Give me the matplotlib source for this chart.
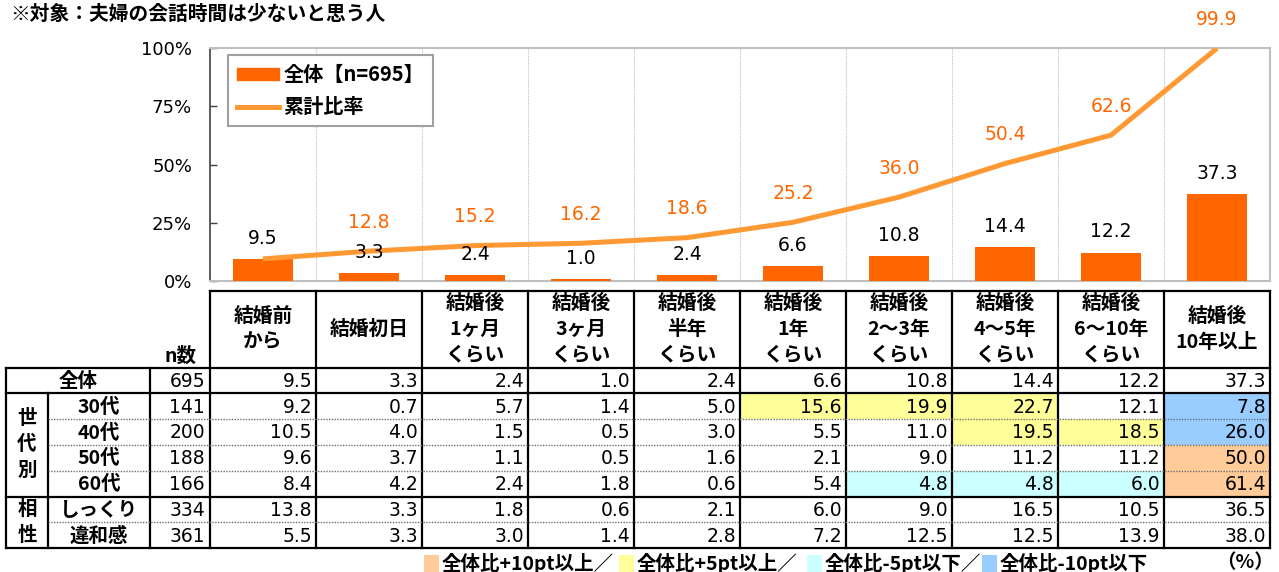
import matplotlib
matplotlib.use('Agg')
import matplotlib.pyplot as plt
from matplotlib.patches import Rectangle, Patch
from matplotlib.lines import Line2D

plt.rcParams['font.family'] = ['Noto Sans CJK JP', 'DejaVu Sans']
NUM_FONT = ['DejaVu Sans', 'Noto Sans CJK JP']

# データ
title = '※対象：夫婦の会話時間は少ないと思う人'
categories = ['結婚前\nから', '結婚初日', '結婚後\n1ヶ月\nくらい', '結婚後\n3ヶ月\nくらい',
              '結婚後\n半年\nくらい', '結婚後\n1年\nくらい', '結婚後\n2～3年\nくらい',
              '結婚後\n4～5年\nくらい', '結婚後\n6～10年\nくらい', '結婚後\n10年以上']
overall = [9.5, 3.3, 2.4, 1.0, 2.4, 6.6, 10.8, 14.4, 12.2, 37.3]
cumulative = [9.5, 12.8, 15.2, 16.2, 18.6, 25.2, 36.0, 50.4, 62.6, 99.9]
yticks = [0, 25, 50, 75, 100]

row_labels = ['全体', '30代', '40代', '50代', '60代', 'しっくり', '違和感']
n_counts = [695, 141, 200, 188, 166, 334, 361]
table_values = [
    [9.5, 3.3, 2.4, 1.0, 2.4, 6.6, 10.8, 14.4, 12.2, 37.3],
    [9.2, 0.7, 5.7, 1.4, 5.0, 15.6, 19.9, 22.7, 12.1, 7.8],
    [10.5, 4.0, 1.5, 0.5, 3.0, 5.5, 11.0, 19.5, 18.5, 26.0],
    [9.6, 3.7, 1.1, 0.5, 1.6, 2.1, 9.0, 11.2, 11.2, 50.0],
    [8.4, 4.2, 2.4, 1.8, 0.6, 5.4, 4.8, 4.8, 6.0, 61.4],
    [13.8, 3.3, 1.8, 0.6, 2.1, 6.0, 9.0, 16.5, 10.5, 36.5],
    [5.5, 3.3, 3.0, 1.4, 2.8, 7.2, 12.5, 12.5, 13.9, 38.0],
]
groups = [('世代別', 1, 4), ('相性', 5, 6)]
legend_items = ['全体比+10pt以上／', '全体比+5pt以上／', '全体比-5pt以下／', '全体比-10pt以下']
legend_colors = ['#FFCC99', '#FFFF99', '#CCFFFF', '#99CCFF']

W, H = 1279, 572
fig = plt.figure(figsize=(W / 100, H / 100), dpi=100)

# グラフ部分（ピクセル位置）
left, right, top, bottom = 210, 1270, 48, 281
colw = (right - left) / len(categories)
ax = fig.add_axes([left / W, 1 - bottom / H, (right - left) / W, (bottom - top) / H])
x = list(range(len(categories)))
ax.bar(x, overall, width=0.56, color='#FF6600', zorder=2.6)
ax.plot(x, cumulative, color='#FF9933', lw=3.6, zorder=3, solid_capstyle='butt')
ax.set_xlim(-0.5, len(categories) - 0.5)
ax.set_ylim(0, 100)
ax.set_yticks(yticks)
ax.set_yticklabels(['%d%%' % v for v in yticks], fontsize=13, family=NUM_FONT)
ax.tick_params(axis='y', direction='in', length=5, width=1, pad=13, color='#404040')
ax.set_xticks([])
ax.set_xticks([i + 0.5 for i in range(len(categories) - 1)], minor=True)
ax.tick_params(axis='x', which='both', length=0)
ax.grid(axis='x', which='minor', color='#C0C0C0', linestyle=(0, (1, 1)), lw=0.8)
ax.spines['left'].set_color('#404040')
ax.spines['left'].set_linewidth(1.2)
for s in ['top', 'right', 'bottom']:
    ax.spines[s].set_color('#BFBFBF')
    ax.spines[s].set_linewidth(1.5)

for i, v in enumerate(overall):
    ax.annotate('%.1f' % v, (i, v), xytext=(0, 8), textcoords='offset points',
                ha='center', va='bottom', fontsize=13.5, family=NUM_FONT, zorder=4)
for i, v in enumerate(cumulative):
    if i == 0:
        continue
    ax.annotate('%.1f' % v, (i, v), xytext=(0, 14), textcoords='offset points',
                ha='center', va='bottom', fontsize=13.5, family=NUM_FONT, color='#FF6600',
                annotation_clip=False, zorder=4)

handles = [Patch(color='#FF6600'), Line2D([], [], color='#FF9933', lw=3.6)]
leg = ax.legend(handles, ['全体【n=695】', '累計比率'], loc='upper left',
                bbox_to_anchor=(0.017, 0.97), prop={'weight': 'bold', 'size': 14.5},
                fancybox=False, edgecolor='#A0A0A0', framealpha=1,
                handlelength=2.1, handleheight=0.55, handletextpad=0.2,
                borderpad=0.45, labelspacing=0.55, borderaxespad=0)
leg.get_frame().set_linewidth(1.5)

fig.text(10 / W, 1 - 14 / H, title, fontsize=14.2, weight='bold', ha='left', va='center')

# 表部分
tb = fig.add_axes([0, 0, 1, 1])
tb.set_xlim(0, W)
tb.set_ylim(H, 0)
tb.axis('off')

head_top, head_bot = 291, 367.5
row_h = 25.8
x_out, x_grp, x_n = 6, 48, 150
nrows = len(row_labels)
row_y = [head_bot + k * row_h for k in range(nrows + 1)]
col_x = [left + j * colw for j in range(len(categories) + 1)]


def diff_color(v, base):
    d = v - base
    if d >= 10:
        return legend_colors[0]
    if d >= 5:
        return legend_colors[1]
    if d <= -10:
        return legend_colors[3]
    if d <= -5:
        return legend_colors[2]
    return None


# セルの色付け
for r in range(1, nrows):
    for j, v in enumerate(table_values[r]):
        c = diff_color(v, table_values[0][j])
        if c:
            tb.add_patch(Rectangle((col_x[j], row_y[r]), colw, row_h, color=c, lw=0, zorder=1))

# 見出し
hc = (head_top + head_bot) / 2
for j, cat in enumerate(categories):
    lines = cat.split('\n')
    cx = left + (j + 0.5) * colw
    for k, line in enumerate(lines):
        y = hc + (k - (len(lines) - 1) / 2) * 25.5
        tb.text(cx, y, line, ha='center', va='center', fontsize=14.2, weight='bold', zorder=3)
tb.text(181, 356, 'n数', ha='center', va='center', fontsize=14, weight='bold')

# 行ラベル・数値
for r in range(nrows):
    yc = (row_y[r] + row_y[r + 1]) / 2 + 1
    if r == 0:
        tb.text((x_out + x_n) / 2, yc, row_labels[r], ha='center', va='center', fontsize=14, weight='bold')
    else:
        tb.text((x_grp + x_n) / 2, yc, row_labels[r], ha='center', va='center', fontsize=14, weight='bold')
    tb.text(left - 5, yc, str(n_counts[r]), ha='right', va='center',
            fontsize=13.5, family=NUM_FONT, zorder=3)
    for j, v in enumerate(table_values[r]):
        tb.text(col_x[j + 1] - 4, yc, '%.1f' % v, ha='right', va='center',
                fontsize=13.5, family=NUM_FONT, zorder=3)

for name, r0, r1 in groups:
    chars = list(name)
    gc = (row_y[r0] + row_y[r1 + 1]) / 2
    for k, ch in enumerate(chars):
        y = gc + (k - (len(chars) - 1) / 2) * 26
        tb.text((x_out + x_grp) / 2, y, ch, ha='center', va='center', fontsize=14, weight='bold')

# 罫線
lw = 1.6
tb.plot([left, right], [head_top, head_top], color='black', lw=lw, zorder=4)
for xx in col_x:
    tb.plot([xx, xx], [head_top, row_y[-1]], color='black', lw=lw, zorder=4)
for xx in [x_out, x_n]:
    tb.plot([xx, xx], [row_y[0], row_y[-1]], color='black', lw=lw, zorder=4)
tb.plot([x_grp, x_grp], [row_y[1], row_y[-1]], color='black', lw=lw, zorder=4)
solid_rows = [0, 1] + [g[1] for g in groups[1:]] + [nrows]
for r in range(nrows + 1):
    if r in solid_rows:
        tb.plot([x_out, right], [row_y[r], row_y[r]], color='black', lw=lw, zorder=4)
    else:
        tb.plot([x_grp, right], [row_y[r], row_y[r]], color='#707070', lw=1.0,
                linestyle=(0, (1, 1)), zorder=4)

# 凡例（色分け）
leg_x = [424, 619, 807, 982]
for xx, txt, c in zip(leg_x, legend_items, legend_colors):
    tb.add_patch(Rectangle((xx, 555), 15, 17, color=c, lw=0))
    tb.text(xx + 18, 563, txt, ha='left', va='center', fontsize=14, weight='bold')
tb.text(1245, 563, '（%）', ha='center', va='center', fontsize=14, weight='bold')

fig.savefig('out.png', dpi=100)
